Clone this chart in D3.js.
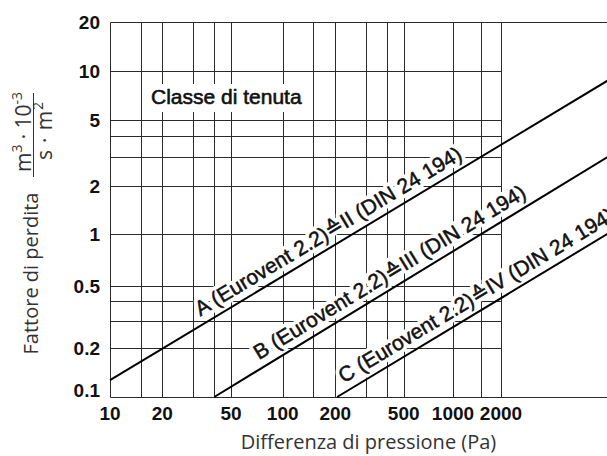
<!DOCTYPE html>
<html><head><meta charset="utf-8">
<script src="https://cdn.jsdelivr.net/npm/d3@7"></script>
<style>body{margin:0;background:#fff}svg{display:block}</style>
</head><body>
<svg id="c" width="607" height="456"></svg>
<script>
// ---- data ----
const xTickValues = [10, 20, 50, 100, 200, 500, 1000, 2000];
const xTickLabels = ["10", "20", "50", "100", "200", "500", "1000", "2000"];
const xGridValues = [15, 20, 30, 40, 50, 100, 150, 200, 300, 400, 500, 1000, 1500, 2000];
const yTickValues = [0.1, 0.2, 0.5, 1, 2, 5, 10, 20];
const yTickLabels = ["0.1", "0.2", "0.5", "1", "2", "5", "10", "20"];
const yGridValues = [0.2, 0.3, 0.4, 0.5, 1, 2, 3, 4, 5, 10];
const classNames = ["A", "B", "C"];
const classLabels = [
  "A (Eurovent 2.2)\u2259II (DIN 24 194)",
  "B (Eurovent 2.2)\u2259III (DIN 24 194)",
  "C (Eurovent 2.2)\u2259IV (DIN 24 194)"
];
const lineStartP = [10, 40, 205];
const lineStartF = [0.127, 0.1, 0.1];
const lineEndP = [10000, 10000, 10000];
const lineEndF = [9.06, 3.12, 1.05];
const labelStartP = [35, 77, 237];
const boxTitle = "Classe di tenuta";
const xTitle = "Differenza di pressione (Pa)";
const yTitle = "Fattore di perdita";

// ---- scales (hand-drawn log grid, piecewise) ----
const x = d3.scaleLog()
  .domain(xTickValues)
  .range([110, 162.3, 231, 282.7, 335.3, 403.7, 453, 501]);
const y = d3.scaleLog()
  .domain(yTickValues)
  .range([397, 348.3, 285.7, 234.3, 186, 120, 70.7, 22]);

const svg = d3.select("#c");
const W = 607;
const x0 = x(10), x1 = x(2000), yTop = y(20), yBot = y(0.1);
const snap = v => Math.round(v) + 0.5;

// grid
const g = svg.append("g").attr("stroke", "#2a2a2a").attr("stroke-width", 1);
g.selectAll("line.v").data(xGridValues).join("line")
  .attr("x1", d => snap(x(d))).attr("x2", d => snap(x(d)))
  .attr("y1", yTop).attr("y2", yBot);
g.selectAll("line.h").data(yGridValues).join("line")
  .attr("x1", x0).attr("x2", x1)
  .attr("y1", d => snap(y(d))).attr("y2", d => snap(y(d)));
g.append("line").attr("x1", snap(x0)).attr("x2", snap(x0)).attr("y1", snap(yTop)).attr("y2", snap(yBot));
g.append("line").attr("x1", snap(x0)).attr("x2", W).attr("y1", snap(yTop)).attr("y2", snap(yTop));
g.append("line").attr("x1", snap(x0)).attr("x2", W).attr("y1", snap(yBot)).attr("y2", snap(yBot));

const sans = "'Liberation Sans', Arial, Helvetica, sans-serif";

// "Classe di tenuta" box
svg.append("rect").attr("x", 145).attr("y", 84).attr("width", 164).attr("height", 28).attr("fill", "#fff");
svg.append("text").attr("x", 151).attr("y", 104)
  .attr("font-family", sans).attr("font-size", 21)
  .attr("fill", "#111").attr("stroke", "#111").attr("stroke-width", 0.6)
  .text(boxTitle);

// class labels (white halo underneath, then text)
const labelPos = classNames.map((c, i) => {
  const px1 = x(lineStartP[i]), py1 = y(lineStartF[i]);
  const px2 = x(lineEndP[i]), py2 = y(lineEndF[i]);
  const slope = (py2 - py1) / (px2 - px1);
  const lx = x(labelStartP[i]);
  return { lx, ly: py1 + slope * (lx - px1), ang: Math.atan(slope) * 180 / Math.PI };
});
["halo", "text"].forEach(layer => {
  svg.append("g").selectAll("text").data(classNames).join("text")
    .attr("transform", (d, i) => `translate(${labelPos[i].lx},${labelPos[i].ly}) rotate(${labelPos[i].ang})`)
    .attr("dy", -8)
    .attr("font-family", sans).attr("font-size", 21)
    .attr("fill", layer === "halo" ? "#fff" : "#111")
    .attr("stroke", layer === "halo" ? "#fff" : "#111")
    .attr("stroke-width", layer === "halo" ? 8 : 0.5)
    .attr("stroke-linejoin", "round")
    .text((d, i) => classLabels[i]);
});

// class lines
const line = d3.line().x(d => x(d[0])).y(d => y(d[1]));
svg.append("g").selectAll("path").data(classNames).join("path")
  .attr("d", (d, i) => line([[lineStartP[i], lineStartF[i]], [lineEndP[i], lineEndF[i]]]))
  .attr("fill", "none").attr("stroke", "#000").attr("stroke-width", 2);

// tick labels
svg.selectAll("text.xt").data(xTickValues).join("text")
  .attr("x", d => x(d)).attr("y", 420)
  .attr("text-anchor", "middle")
  .attr("font-family", sans).attr("font-weight", "bold").attr("font-size", 19).attr("fill", "#111")
  .text((d, i) => xTickLabels[i]);
svg.selectAll("text.yt").data(yTickValues).join("text")
  .attr("x", 100).attr("y", (d, i) => y(d) + 7 - (i === 0 ? 7 : 0))
  .attr("text-anchor", "end")
  .attr("font-family", sans).attr("font-weight", "bold").attr("font-size", 19).attr("fill", "#111")
  .text((d, i) => yTickLabels[i]);

// axis titles
const titleFont = "'Open Sans', 'Noto Sans', sans-serif";
svg.append("text").attr("x", 368.5).attr("y", 449).attr("text-anchor", "middle")
  .attr("font-family", titleFont).attr("font-size", 20).attr("fill", "#333").text(xTitle);
svg.append("text").attr("transform", "translate(38,273.5) rotate(-90)").attr("text-anchor", "middle")
  .attr("font-family", titleFont).attr("font-size", 20).attr("fill", "#333").text(yTitle);

// unit fraction
const num = svg.append("text").attr("transform", "translate(31,132) rotate(-90)").attr("text-anchor", "middle")
  .attr("font-family", titleFont).attr("font-size", 21).attr("fill", "#333")
  .attr("textLength", 80).attr("lengthAdjust", "spacing");
num.append("tspan").text("m");
num.append("tspan").attr("font-size", 14).attr("dy", -9).text("3");
num.append("tspan").attr("dy", 9).text(" \u00b7 10");
num.append("tspan").attr("font-size", 14).attr("dy", -9).text("-3");
svg.append("line").attr("x1", 33.5).attr("x2", 33.5).attr("y1", 93).attr("y2", 177)
  .attr("stroke", "#333").attr("stroke-width", 1);
const den = svg.append("text").attr("transform", "translate(52,131) rotate(-90)").attr("text-anchor", "middle")
  .attr("font-family", titleFont).attr("font-size", 21).attr("fill", "#333")
  .attr("textLength", 58).attr("lengthAdjust", "spacing");
den.append("tspan").text("s \u00b7 m");
den.append("tspan").attr("font-size", 14).attr("dy", -9).text("2");
</script>
</body></html>
